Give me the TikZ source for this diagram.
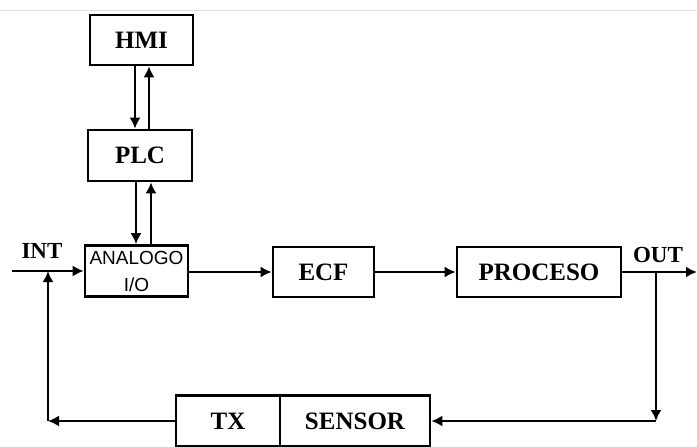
\documentclass[tikz,border=0pt]{standalone}
\usepackage{fontspec}
\setmainfont{Liberation Serif}
\newfontfamily\ioFont{Liberation Sans}
\usepackage{tikz}
\usetikzlibrary{arrows.meta,calc,positioning}

\begin{document}
\begin{tikzpicture}[x=1pt, y=-1pt,
    blk/.style={draw, line width=2.6pt, inner sep=0pt, font=\fontsize{25}{28}\selectfont\bfseries},
    lbl/.style={font=\fontsize{23}{26}\selectfont\bfseries},
    arr/.style={line width=2.6pt, -{Latex[length=11pt,width=11pt]}}]
            \useasboundingbox (0,0) rectangle (697,447);
            \draw[gray!25, line width=1pt] (0,10) -- (697,10);
            % Draw the control column
            \node[blk, minimum width=103, minimum height=50] (hmi) at (141.5,40) {HMI};
            \node[blk, minimum width=104, minimum height=51] (plc) at (140,155.5) {PLC};
            \node[blk, minimum width=103, minimum height=51, align=center,
                  font=\fontsize{19}{27}\selectfont\ioFont] (aio) at (136.5,271) {ANALOGO\\I/O};
            % Draw the forward path
            \node[blk, minimum width=101, minimum height=50] (ecf) at (323.5,272) {ECF};
            \node[blk, minimum width=164, minimum height=50] (pro) at (539,272) {PROCESO};
            % Draw the feedback blocks
            \node[blk, minimum width=104, minimum height=51] (tx) at (228,421) {TX};
            \node[blk, minimum width=150, minimum height=51] (sen) at (355,421) {SENSOR};
            % Labels
            \node[lbl] (int) at (42,251) {INT};
            \node[lbl] (out) at (658,255) {OUT};
            % Free ends and corners
            \coordinate (in) at (12,271);
            \coordinate (oend) at (697,272);
            \coordinate (br) at (656,272);
            \coordinate (cr) at (656,421);
            \coordinate (cl) at (48,421);
            % Draw connecting arrows
            \draw[arr] ([xshift=-6.5]hmi.south) -- ([xshift=-6.5]hmi.south |- plc.north);
            \draw[arr] ([xshift=9]plc.north) -- ([xshift=9]plc.north |- hmi.south);
            \draw[arr] ([xshift=-4]plc.south) -- ([xshift=-4]plc.south |- aio.north);
            \draw[arr] ([xshift=14.5]aio.north) -- ([xshift=14.5]aio.north |- plc.south);
            \draw[arr] (in) -- (aio.west);
            \draw[arr] (aio.east |- ecf.west) -- (ecf.west);
            \draw[arr] (ecf.east) -- (pro.west);
            \draw[arr] (pro.east) -- (oend);
            \draw[arr] (br) -- (cr);
            \draw[arr] (cr) -- (sen.east);
            \draw[arr] (tx.west) -- (cl);
            \draw[arr] (cl) -- (cl |- aio.west);
        \end{tikzpicture}
\end{document}
